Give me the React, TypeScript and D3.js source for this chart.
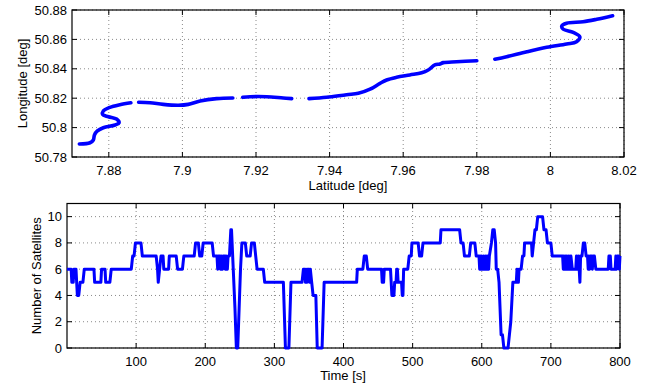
import * as d3 from 'd3';
import { useEffect, useRef } from 'react';

// top panel: track, split where the receiver dropped out
const seg1Lat = [7.872, 7.8749, 7.8758, 7.8761, 7.8769, 7.8785, 7.8817, 7.8828, 7.8821, 7.8799, 7.8783, 7.8785, 7.8803, 7.883, 7.886];
const seg1Lon = [50.7888, 50.7897, 50.7916, 50.795, 50.7977, 50.7999, 50.8018, 50.8033, 50.8058, 50.8074, 50.809, 50.8113, 50.8138, 50.8156, 50.8169];
const seg2Lat = [7.8881, 7.8912, 7.8948, 7.8989, 7.9016, 7.9048, 7.9093, 7.9137];
const seg2Lon = [50.8172, 50.8169, 50.8158, 50.8152, 50.8158, 50.8181, 50.8197, 50.8201];
const seg3Lat = [7.9164, 7.9184, 7.9229, 7.9274, 7.9297];
const seg3Lon = [50.8206, 50.821, 50.821, 50.8201, 50.8197];
const seg4Lat = [7.9344, 7.9392, 7.9446, 7.9478, 7.951, 7.9537, 7.9555, 7.9582, 7.9618, 7.965, 7.9668, 7.9686, 7.97, 7.9709, 7.9745, 7.98];
const seg4Lon = [50.8197, 50.8206, 50.8224, 50.8233, 50.8261, 50.8301, 50.8324, 50.8342, 50.8358, 50.8373, 50.8392, 50.8426, 50.8433, 50.8442, 50.8448, 50.8455];
const seg5Lat = [7.9849, 7.9881, 7.9936, 7.999, 8.0044, 8.0071, 8.008, 8.0062, 8.0035, 8.0031, 8.0044, 8.0089, 8.0126, 8.0169];
const seg5Lon = [50.8465, 50.8482, 50.8516, 50.8546, 50.8569, 50.8584, 50.8618, 50.8648, 50.8669, 50.8691, 50.871, 50.872, 50.8737, 50.8761];

const latTicks = [7.88, 7.9, 7.92, 7.94, 7.96, 7.98, 8, 8.02];
const lonTicks = [50.78, 50.8, 50.82, 50.84, 50.86, 50.88];

// bottom panel: satellites in view over time
const satTime = [
  0, 6, 7, 9, 10, 13, 15, 17, 19, 23, 25, 39, 40, 49, 50, 55, 56, 62, 64, 93, 95, 97, 99, 107, 109, 129,
  131, 132, 134, 136, 139, 140, 147, 148, 158, 160, 167, 169, 184, 186, 190, 192, 195, 197, 210, 212, 217,
  218, 219, 221, 222, 223, 225, 226, 228, 229, 230, 232, 233, 235, 237, 238, 243, 245, 247, 249, 251, 253,
  258, 260, 265, 267, 271, 273, 275, 284, 286, 313, 316, 321, 324, 340, 342, 344, 345, 346, 347, 348, 350,
  351, 352, 354, 356, 360, 362, 369, 372, 419, 420, 428, 430, 433, 435, 455, 456, 458, 459, 468, 470, 473,
  474, 476, 477, 478, 479, 484, 485, 486, 487, 493, 495, 498, 499, 508, 510, 513, 515, 540, 541, 568, 570,
  573, 575, 582, 584, 590, 592, 596, 597, 598, 599, 600, 601, 603, 604, 606, 607, 608, 610, 611, 614, 616,
  618, 620, 621, 623, 625, 628, 630, 632, 638, 640, 642, 645, 650, 651, 653, 654, 657, 659, 661, 662, 672,
  673, 675, 677, 679, 681, 688, 690, 693, 695, 700, 702, 717, 718, 719, 720, 721, 722, 723, 725, 726, 728,
  729, 731, 736, 737, 739, 740, 742, 743, 745, 747, 749, 751, 753, 754, 755, 756, 757, 759, 760, 761, 763,
  765, 783, 784, 786, 787, 793, 794, 795, 796, 798, 799, 800,
];
const satCount = [
  6, 6, 5, 5, 6, 6, 4, 4, 5, 5, 6, 6, 5, 5, 6, 6, 5, 5, 6, 6, 7, 7, 8, 8, 7, 7,
  6, 5, 6, 7, 7, 6, 6, 7, 7, 6, 6, 7, 7, 8, 8, 7, 7, 8, 8, 7, 7,
  6, 7, 7, 6, 7, 6, 7, 7, 6, 7, 6, 7, 7, 9, 9, 3, 0, 0, 3, 6, 8,
  8, 7, 7, 8, 8, 7, 6, 6, 5, 5, 0, 0, 5, 5, 6, 6, 5, 6, 5, 6, 6,
  5, 6, 5, 4, 4, 0, 0, 5, 5, 6, 6, 7, 7, 6, 6, 5, 5, 6, 6, 4, 4,
  5, 5, 6, 6, 5, 5, 4, 4, 6, 6, 7, 7, 8, 8, 7, 7, 8, 8, 9, 9, 8,
  8, 7, 7, 8, 8, 7, 7, 6, 7, 6, 7, 6, 7, 6, 7, 6, 7, 6, 7, 8, 9,
  9, 8, 6, 6, 5, 1, 1, 0, 0, 1, 2, 5, 5, 6, 5, 6, 6, 7, 7, 8, 8,
  7, 8, 9, 9, 10, 10, 9, 9, 8, 8, 7, 7, 6, 7, 6, 7, 6, 7, 6, 7, 6,
  7, 6, 6, 7, 6, 7, 5, 7, 7, 8, 8, 7, 7, 6, 7, 6, 7, 7, 6, 7, 7,
  6, 6, 7, 7, 6, 6, 7, 6, 7, 7, 6, 7,
];
const timeTicks = [100, 200, 300, 400, 500, 600, 700, 800];
const satTicks = [0, 2, 4, 6, 8, 10];

const FONT = '"Liberation Sans", Arial, Helvetica, sans-serif';

type Sel = d3.Selection<SVGGElement, unknown, null, undefined>;

function frame(
  g: Sel,
  x: d3.ScaleLinear<number, number>,
  y: d3.ScaleLinear<number, number>,
  xTicks: number[],
  yTicks: number[],
) {
  const [x0, x1] = x.range();
  const [y0, y1] = y.range(); // y0 bottom, y1 top
  const tl = 5;

  const grid = g.append('g').attr('stroke', '#8a8a8a').attr('stroke-width', 1).attr('stroke-dasharray', '1 3');
  xTicks.forEach((t) => {
    grid.append('line').attr('x1', x(t)).attr('x2', x(t)).attr('y1', y0).attr('y2', y1);
  });
  yTicks.forEach((t) => {
    grid.append('line').attr('x1', x0).attr('x2', x1).attr('y1', y(t)).attr('y2', y(t));
  });

  g.append('rect')
    .attr('x', x0)
    .attr('y', y1)
    .attr('width', x1 - x0)
    .attr('height', y0 - y1)
    .attr('fill', 'none')
    .attr('stroke', '#000')
    .attr('stroke-width', 1.2);

  const ticks = g.append('g').attr('stroke', '#000').attr('stroke-width', 1);
  xTicks.forEach((t) => {
    ticks.append('line').attr('x1', x(t)).attr('x2', x(t)).attr('y1', y0).attr('y2', y0 - tl);
    ticks.append('line').attr('x1', x(t)).attr('x2', x(t)).attr('y1', y1).attr('y2', y1 + tl);
  });
  yTicks.forEach((t) => {
    ticks.append('line').attr('x1', x0).attr('x2', x0 + tl).attr('y1', y(t)).attr('y2', y(t));
    ticks.append('line').attr('x1', x1).attr('x2', x1 - tl).attr('y1', y(t)).attr('y2', y(t));
  });

  g.append('g')
    .selectAll('text')
    .data(xTicks)
    .enter()
    .append('text')
    .attr('x', (d) => x(d))
    .attr('y', y0 + 18)
    .attr('text-anchor', 'middle')
    .text((d) => String(d));

  g.append('g')
    .selectAll('text')
    .data(yTicks)
    .enter()
    .append('text')
    .attr('x', x0 - 5)
    .attr('y', (d) => y(d) + 4.5)
    .attr('text-anchor', 'end')
    .text((d) => String(d));
}

export default function App() {
  const ref = useRef<SVGSVGElement | null>(null);

  useEffect(() => {
    const svg = d3.select(ref.current);
    svg.selectAll('*').remove();
    const root = svg.append('g').attr('font-family', FONT).attr('font-size', 13).attr('fill', '#000') as Sel;

    // ---- top: position
    const xLat = d3.scaleLinear().domain([7.87, 8.02]).range([72, 624]);
    const yLon = d3.scaleLinear().domain([50.78, 50.88]).range([157, 10]);
    const top = root.append('g') as Sel;
    frame(top, xLat, yLon, latTicks, lonTicks);

    const segs = [
      [seg1Lat, seg1Lon],
      [seg2Lat, seg2Lon],
      [seg3Lat, seg3Lon],
      [seg4Lat, seg4Lon],
      [seg5Lat, seg5Lon],
    ].map(([la, lo]) => la.map((v, i) => [v, lo[i]] as [number, number]));

    const track = d3
      .line<[number, number]>()
      .x((d) => xLat(d[0]))
      .y((d) => yLon(d[1]))
      .curve(d3.curveCatmullRom.alpha(0.5));

    top
      .selectAll('path.track')
      .data(segs)
      .enter()
      .append('path')
      .attr('class', 'track')
      .attr('d', (d) => track(d))
      .attr('fill', 'none')
      .attr('stroke', '#0000ff')
      .attr('stroke-width', 3.6)
      .attr('stroke-linecap', 'round')
      .attr('stroke-linejoin', 'round');

    top.append('text').attr('x', 348).attr('y', 190).attr('text-anchor', 'middle').text('Latitude [deg]');
    top
      .append('text')
      .attr('transform', `translate(27,${(10 + 157) / 2}) rotate(-90)`)
      .attr('text-anchor', 'middle')
      .text('Longitude [deg]');

    // ---- bottom: satellites
    const xT = d3.scaleLinear().domain([0, 800]).range([67, 620]);
    const yS = d3.scaleLinear().domain([0, 11]).range([348, 203.5]);
    const bot = root.append('g') as Sel;
    frame(bot, xT, yS, timeTicks, satTicks);

    const sat = satTime.map((t, i) => [t, satCount[i]] as [number, number]);
    const satLine = d3
      .line<[number, number]>()
      .x((d) => xT(d[0]))
      .y((d) => yS(d[1]));
    bot
      .append('path')
      .attr('d', satLine(sat))
      .attr('fill', 'none')
      .attr('stroke', '#0000ff')
      .attr('stroke-width', 3)
      .attr('stroke-linejoin', 'round');

    bot.append('text').attr('x', 343).attr('y', 380).attr('text-anchor', 'middle').text('Time [s]');
    bot
      .append('text')
      .attr('transform', `translate(41,${(203.5 + 348) / 2}) rotate(-90)`)
      .attr('text-anchor', 'middle')
      .text('Number of Satellites');
  }, []);

  return (
    <svg
      ref={ref}
      width={649}
      height={385}
      style={{ position: 'absolute', left: 0, top: 0, background: '#fff' }}
      role="img"
      aria-label="Track position and number of satellites"
    />
  );
}
